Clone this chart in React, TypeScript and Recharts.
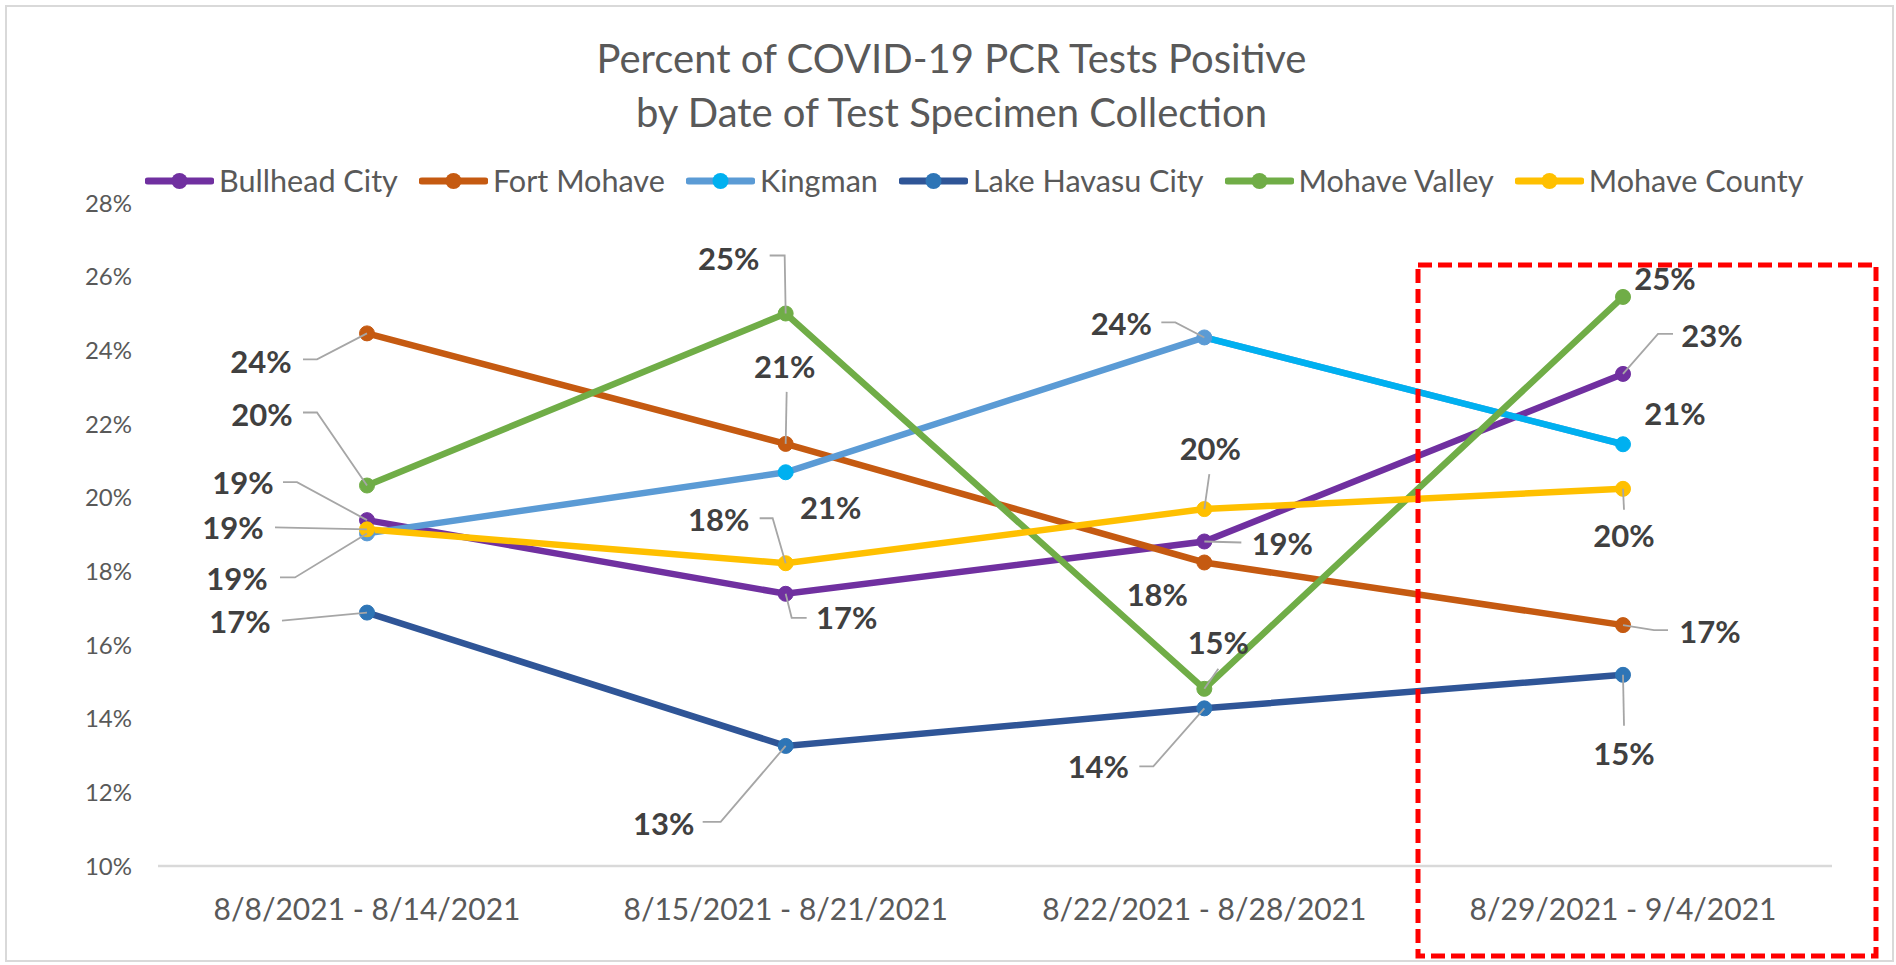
import React from 'react';
import { LineChart, Line, XAxis, YAxis, Legend, LabelList } from 'recharts';

// ---------- data ----------
const categories = [
  '8/8/2021 - 8/14/2021',
  '8/15/2021 - 8/21/2021',
  '8/22/2021 - 8/28/2021',
  '8/29/2021 - 9/4/2021',
];
const bullheadCity = [19.39, 17.39, 18.81, 23.36];
const fortMohave = [24.46, 21.46, 18.24, 16.54];
const kingman = [19.03, 20.69, 24.35, 21.45];
const lakeHavasuCity = [16.88, 13.26, 14.28, 15.19];
const mohaveValley = [20.33, 25.0, 14.81, 25.45];
const mohaveCounty = [19.14, 18.22, 19.69, 20.24];
const yTicks = [10, 12, 14, 16, 18, 20, 22, 24, 26, 28];
const titleLines = ['Percent of COVID-19 PCR Tests Positive', 'by Date of Test Specimen Collection'];

// ---------- styles / layout ----------
type Spec = { dx: number; dy: number; path?: number[][] };

const series = [
  { key: 'bullhead', name: 'Bullhead City', values: bullheadCity, stroke: '#7030A0', marker: '#7030A0', dots: ['#7030A0', '#7030A0', '#7030A0', '#7030A0'] },
  { key: 'fortMohave', name: 'Fort Mohave', values: fortMohave, stroke: '#C55A11', marker: '#C55A11', dots: ['#C55A11', '#C55A11', '#C55A11', '#C55A11'] },
  { key: 'kingman', name: 'Kingman', values: kingman, stroke: '#5B9BD5', marker: '#00B0F0', dots: ['#5B9BD5', '#00B0F0', null, null] },
  { key: 'lakeHavasu', name: 'Lake Havasu City', values: lakeHavasuCity, stroke: '#2F5597', marker: '#2E75B6', dots: ['#2E75B6', '#2E75B6', '#2E75B6', '#2E75B6'] },
  { key: 'mohaveValley', name: 'Mohave Valley', values: mohaveValley, stroke: '#70AD47', marker: '#70AD47', dots: ['#70AD47', '#70AD47', '#70AD47', '#70AD47'] },
  { key: 'mohaveCounty', name: 'Mohave County', values: mohaveCounty, stroke: '#FFC000', marker: '#FFC000', dots: ['#FFC000', '#FFC000', '#FFC000', '#FFC000'] },
];
const kingmanTailDots = [null, null, '#5B9BD5', '#00B0F0'];

const labelLayout: Record<string, Spec[]> = {
  bullhead: [
    { dx: -124, dy: -37, path: [[-84, -38], [-70, -38], [0, 0]] },
    { dx: 61, dy: 24, path: [[0, 0], [6, 24], [21, 24]] },
    { dx: 78, dy: 2, path: [[0, 0], [37, 1]] },
    { dx: 89, dy: -38, path: [[0, 0], [35, -40], [50, -40]] },
  ],
  fortMohave: [
    { dx: -106, dy: 28, path: [[-64, 26], [-50, 26], [0, 0]] },
    { dx: -1, dy: -77, path: [[1, -52], [0, 0]] },
    { dx: -47, dy: 32 },
    { dx: 87, dy: 7, path: [[0, 0], [31, 5], [45, 5]] },
  ],
  kingman: [
    { dx: -130, dy: 45, path: [[-87, 44], [-72, 44], [0, 0]] },
    { dx: 45, dy: 36 },
    { dx: -83, dy: -14, path: [[-43, -15], [-29, -15], [0, 0]] },
    { dx: 52, dy: -30 },
  ],
  lakeHavasu: [
    { dx: -127, dy: 9, path: [[-85, 8], [0, 0]] },
    { dx: -122, dy: 78, path: [[-83, 76], [-65, 76], [0, 0]] },
    { dx: -106, dy: 58, path: [[-65, 58], [-51, 58], [0, 0]] },
    { dx: 1, dy: 79, path: [[0, 0], [1, 51]] },
  ],
  mohaveValley: [
    { dx: -105, dy: -71, path: [[-64, -73], [-50, -73], [0, 0]] },
    { dx: -57, dy: -55, path: [[-16, -58], [-1, -58], [0, 0]] },
    { dx: 14, dy: -46, path: [[14, -20], [0, 0]] },
    { dx: 42, dy: -18 },
  ],
  mohaveCounty: [
    { dx: -134, dy: -2, path: [[-92, -2], [0, 0]] },
    { dx: -67, dy: -43, path: [[-26, -45], [-13, -45], [0, 0]] },
    { dx: 6, dy: -60, path: [[5, -35], [0, 0]] },
    { dx: 1, dy: 47, path: [[0, 0], [1, 21]] },
  ],
};

const FONT = 'Lato, "Open Sans", sans-serif';
const TEXT_GRAY = '#595959';

const chartData = categories.map((c, i) => {
  const row: Record<string, any> = { category: c };
  series.forEach((s) => {
    row[s.key] = s.values[i];
  });
  row.kingmanTail = i >= 2 ? kingman[i] : null;
  return row;
});

const makeDot = (colors: (string | null)[], keyPrefix: string) => (props: any) => {
  const { cx, cy, index } = props;
  const color = colors[index];
  if (!color || cx == null || cy == null) return <g key={`${keyPrefix}-${index}`} />;
  return <circle key={`${keyPrefix}-${index}`} cx={cx} cy={cy} r={7.5} fill={color} stroke={color} strokeWidth={1} />;
};

const makeLabel = (specs: Spec[], keyPrefix: string) => (props: any) => {
  const { index, value } = props;
  const x = props.x ?? props.viewBox?.x;
  const y = props.y ?? props.viewBox?.y;
  if (x == null || y == null || value == null) return null;
  const spec = specs[index];
  if (!spec) return null;
  const pts = spec.path ? spec.path.map(([px, py]) => `${x + px},${y + py}`).join(' ') : null;
  return (
    <g key={`${keyPrefix}-lbl-${index}`}>
      {pts && <polyline points={pts} fill="none" stroke="#A6A6A6" strokeWidth={1.8} />}
      <text
        x={x + spec.dx}
        y={y + spec.dy}
        dy="0.36em"
        textAnchor="middle"
        fontFamily={FONT}
        fontWeight={700}
        fontSize={31}
        fill="#404040"
      >
        {`${Math.round(Number(value))}%`}
      </text>
    </g>
  );
};

const LegendContent = () => (
  <div style={{ display: 'flex', alignItems: 'center', fontFamily: FONT, fontSize: 30.6, color: TEXT_GRAY, whiteSpace: 'nowrap' }}>
    {series.map((s) => (
      <div key={s.key} style={{ display: 'flex', alignItems: 'center', marginRight: 21 }}>
        <svg width={69} height={20} style={{ marginRight: 5 }}>
          <line x1={3} y1={10} x2={66} y2={10} stroke={s.stroke} strokeWidth={7} strokeLinecap="round" />
          <circle cx={34.5} cy={10} r={8} fill={s.marker} />
        </svg>
        <span>{s.name}</span>
      </div>
    ))}
  </div>
);

export default function App() {
  return (
    <div style={{ position: 'relative', width: 1896, height: 965, background: '#fff', fontFamily: FONT }}>
      <style>{'body{margin:0;}'}</style>
      <div
        style={{
          position: 'absolute', left: 5, top: 5, width: 1889, height: 957,
          border: '2px solid #D9D9D9', boxSizing: 'border-box',
        }}
      />
      <div
        style={{
          position: 'absolute', left: 0, top: 31, width: 1903, textAlign: 'center',
          fontFamily: FONT, fontSize: 40, lineHeight: '54px', color: TEXT_GRAY,
        }}
      >
        {titleLines.map((t) => (
          <div key={t}>{t}</div>
        ))}
      </div>
      <LineChart
        width={1896}
        height={965}
        data={chartData}
        margin={{ top: 203, right: 64, bottom: 39, left: 78 }}
        style={{ position: 'absolute', left: 0, top: 0 }}
      >
        <XAxis
          dataKey="category"
          height={60}
          padding={{ left: 209, right: 209 }}
          axisLine={{ stroke: '#D9D9D9', strokeWidth: 2.5 }}
          tickLine={false}
          tickSize={0}
          tickMargin={33}
          tick={{ fontSize: 30, fill: TEXT_GRAY, fontFamily: FONT }}
          interval={0}
        />
        <YAxis
          width={80}
          domain={[10, 28]}
          ticks={yTicks}
          type="number"
          allowDataOverflow
          axisLine={false}
          tickLine={false}
          tickSize={0}
          tickMargin={26}
          tickFormatter={(v: number) => `${v}%`}
          tick={{ fontSize: 24, fill: TEXT_GRAY, fontFamily: FONT }}
        />
        <Legend
          verticalAlign="middle"
          align="center"
          layout="horizontal"
          content={() => <LegendContent />}
          wrapperStyle={{ position: 'absolute', top: 162, left: 145, width: 1750, height: 34 }}
        />
        {series.map((s) => [
          <Line
            key={s.key}
            type="linear"
            dataKey={s.key}
            name={s.name}
            stroke={s.stroke}
            strokeWidth={6.5}
            dot={makeDot(s.dots, s.key)}
            activeDot={false}
            isAnimationActive={false}
          >
            <LabelList dataKey={s.key} content={makeLabel(labelLayout[s.key], s.key)} />
          </Line>,
          s.key === 'kingman' ? (
            <Line
              key="kingmanTail"
              type="linear"
              dataKey="kingmanTail"
              legendType="none"
              stroke="#00B0F0"
              strokeWidth={6.5}
              dot={makeDot(kingmanTailDots, 'kingmanTail')}
              activeDot={false}
              connectNulls={false}
              isAnimationActive={false}
            />
          ) : null,
        ])}
      </LineChart>
      <svg width={1896} height={965} style={{ position: 'absolute', left: 0, top: 0, pointerEvents: 'none' }}>
        <rect x={1418} y={265} width={458} height={691} fill="none" stroke="#FF0000" strokeWidth={5} strokeDasharray="14 6" />
      </svg>
    </div>
  );
}
